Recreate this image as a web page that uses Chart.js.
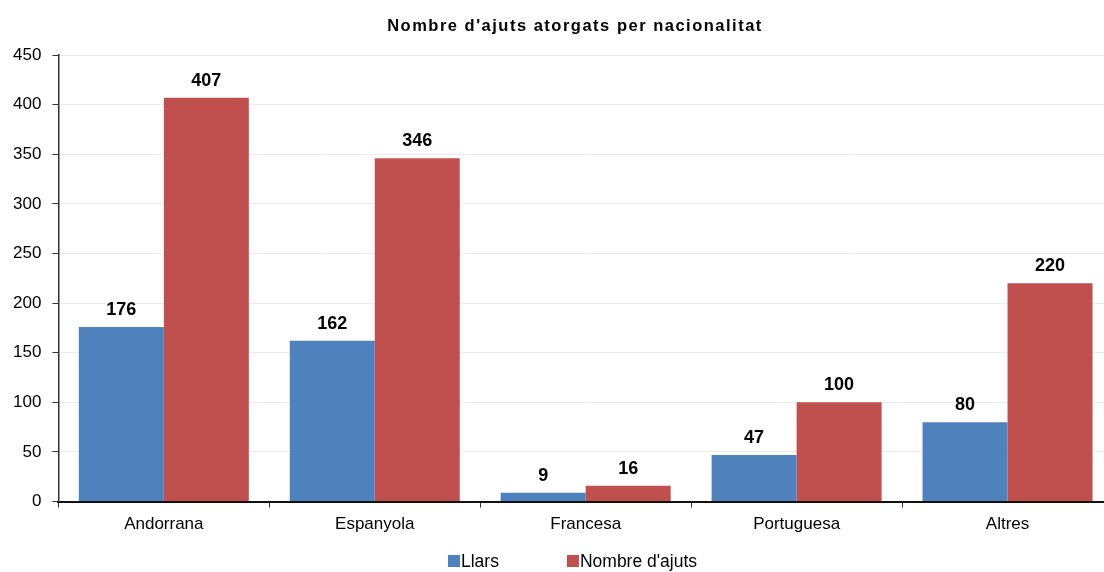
<!DOCTYPE html>
<html><head><meta charset="utf-8">
<script src="https://cdn.jsdelivr.net/npm/chart.js@4/dist/chart.umd.min.js"></script>
<style>html,body{margin:0;padding:0;overflow:hidden;background:#fff}#wrap{width:1113px;height:572px;position:relative}</style>
</head><body><div id="wrap"><canvas id="c"></canvas></div>
<script>
const categories = ["Andorrana", "Espanyola", "Francesa", "Portuguesa", "Altres"];
const llars = [176, 162, 9, 47, 80];
const ajuts = [407, 346, 16, 100, 220];
const seriesNames = ["Llars", "Nombre d'ajuts"];
const yTicks = [0, 50, 100, 150, 200, 250, 300, 350, 400, 450];
const titleText = "Nombre d'ajuts atorgats per nacionalitat";
const colors = ["#4F81BD", "#C0504D"];
const FONT = "'Liberation Sans', Arial, sans-serif";

const labelPlugin = {
  id: 'vals',
  afterDatasetsDraw(chart) {
    const ctx = chart.ctx;
    ctx.save();
    ctx.font = "bold 18px " + FONT;
    ctx.fillStyle = "#000";
    ctx.textAlign = "center";
    ctx.textBaseline = "alphabetic";
    chart.data.datasets.forEach((ds, i) => {
      chart.getDatasetMeta(i).data.forEach((bar, j) => {
        ctx.fillText(String(ds.data[j]), bar.x, bar.y - 12);
      });
    });
    ctx.restore();
  },
  afterDraw(chart) {
    const ctx = chart.ctx;
    ctx.save();
    // title
    ctx.font = "bold 16.5px " + FONT;
    ctx.letterSpacing = "1.5px";
    ctx.fillStyle = "#000";
    ctx.textAlign = "center";
    ctx.textBaseline = "middle";
    ctx.fillText(titleText, 575, 26);
    ctx.letterSpacing = "0px";
    // legend
    ctx.font = "17.5px " + FONT;
    ctx.textBaseline = "middle";
    const y = 561;
    const items = chart.data.datasets.map((d, i) => ({ label: d.label, color: colors[i] }));
    const box = 12, gapBox = 1, gapItem = 68;
    const widths = items.map(it => box + gapBox + ctx.measureText(it.label).width);
    let x = 448;
    items.forEach((it, i) => {
      ctx.fillStyle = it.color;
      ctx.fillRect(x, y - box / 2, box, box);
      ctx.fillStyle = "#000";
      ctx.textAlign = "left";
      ctx.fillText(it.label, x + box + gapBox, y + 1);
      x += widths[i] + gapItem;
    });
    ctx.restore();
  }
};

new Chart(document.getElementById('c'), {
  type: 'bar',
  data: {
    labels: categories,
    datasets: [
      { label: seriesNames[0], data: llars, backgroundColor: colors[0] },
      { label: seriesNames[1], data: ajuts, backgroundColor: colors[1] }
    ]
  },
  options: {
    responsive: true,
    maintainAspectRatio: false,
    animation: false,
    datasets: { bar: { categoryPercentage: 0.806, barPercentage: 1.0 } },
    layout: { padding: { left: 2, right: 0, top: 55, bottom: 30 } },
    plugins: {
      legend: { display: false },
      tooltip: { enabled: false },
      title: { display: false }
    },
    scales: {
      x: {
        grid: { display: true, drawOnChartArea: false, drawTicks: true, tickLength: 6, color: "#333", offset: true },
        border: { display: true, color: "#111", width: 2 },
        ticks: { color: "#000", font: { family: FONT, size: 17 }, padding: 7 }
      },
      y: {
        min: 0, max: 450,
        afterBuildTicks(axis) { axis.ticks = yTicks.map(v => ({ value: v })); },
        grid: { color: "#ebebeb", tickColor: "#333", tickLength: 6, lineWidth: 1 },
        border: { display: true, color: "#333", width: 1.5 },
        ticks: { color: "#000", font: { family: FONT, size: 17 }, padding: 11 }
      }
    }
  },
  plugins: [labelPlugin]
});
</script></body></html>
